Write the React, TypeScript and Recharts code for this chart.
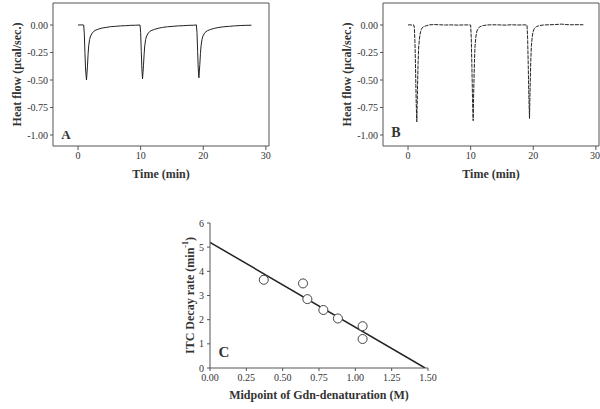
import { LineChart, Line, XAxis, YAxis, ComposedChart, Scatter, Label } from 'recharts';

// Panel A: thermogram, native protein
const timeA = [
  0, 0.5, 0.9, 1.0, 1.1, 1.2, 1.35, 1.5, 1.6, 1.7, 1.85, 2.0, 2.3, 2.7, 3.2, 3.8, 4.5, 5.2, 6.0, 6.8, 7.6, 8.4, 9.2, 9.9,
  10.0, 10.1, 10.2, 10.3, 10.45, 10.55, 10.65, 10.8, 10.95, 11.25, 11.65, 12.2, 12.8, 13.5, 14.3, 15.2, 16.0, 16.9, 17.7, 18.5, 18.9,
  19.0, 19.1, 19.2, 19.3, 19.45, 19.55, 19.65, 19.8, 19.95, 20.25, 20.65, 21.2, 21.8, 22.5, 23.3, 24.2, 25.0, 25.9, 26.8, 27.7,
];
const flowA = [
  0.0, 0.001, 0.0, -0.08, -0.25, -0.4, -0.5, -0.38, -0.27, -0.19, -0.13, -0.1, -0.07, -0.05, -0.038, -0.028, -0.022, -0.015, -0.012, -0.008, -0.006, -0.003, -0.002, 0.0,
  -0.07, -0.24, -0.4, -0.49, -0.37, -0.27, -0.19, -0.13, -0.1, -0.07, -0.052, -0.04, -0.03, -0.022, -0.016, -0.012, -0.008, -0.006, -0.003, -0.002, 0.001,
  -0.07, -0.24, -0.4, -0.48, -0.36, -0.26, -0.19, -0.13, -0.1, -0.07, -0.052, -0.04, -0.03, -0.022, -0.016, -0.012, -0.008, -0.005, -0.003, -0.002,
];

// Panel B: thermogram, second sample
const timeB = [
  0, 0.3, 0.6, 0.9, 1.0, 1.1, 1.2, 1.3, 1.4, 1.5, 1.6, 1.7, 1.85, 2.0, 2.2, 2.5, 3.0, 3.5, 4.2, 5.0, 6.0, 7.0, 8.0, 9.0,
  10.0, 10.1, 10.2, 10.3, 10.4, 10.5, 10.6, 10.7, 10.85, 11.0, 11.2, 11.5, 12.0, 12.6, 13.5, 14.5, 15.5, 16.5, 17.5, 18.5,
  19.0, 19.1, 19.2, 19.3, 19.4, 19.5, 19.6, 19.7, 19.85, 20.0, 20.2, 20.5, 21.0, 21.6, 22.5, 23.5, 24.5, 25.2, 26.0, 27.0, 28.0,
];
const flowB = [
  0.0, 0.002, -0.001, 0.001, -0.02, -0.15, -0.4, -0.7, -0.88, -0.6, -0.35, -0.2, -0.11, -0.06, -0.03, -0.015, -0.005, 0.002, 0.004, 0.002, 0.0, 0.001, -0.001, 0.001,
  0.0, -0.12, -0.38, -0.68, -0.87, -0.58, -0.34, -0.19, -0.1, -0.055, -0.03, -0.015, -0.005, 0.0, 0.002, 0.001, -0.001, 0.002, 0.0, 0.001,
  0.0, -0.12, -0.37, -0.66, -0.85, -0.57, -0.33, -0.19, -0.1, -0.055, -0.03, -0.015, -0.005, 0.0, 0.002, 0.004, 0.008, 0.004, 0.002, 0.003, 0.002,
];

const timeTicks = [0, 10, 20, 30];
const flowTicks = [0, -0.25, -0.5, -0.75, -1];

// Panel C: decay rate vs denaturation midpoint
const midpoint = [0.37, 0.64, 0.67, 0.78, 0.88, 1.05, 1.05];
const decayRate = [3.65, 3.5, 2.85, 2.4, 2.05, 1.73, 1.2];
const fitX = [0, 1.48];
const fitY = [5.2, 0];
const midTicks = [0, 0.25, 0.5, 0.75, 1.0, 1.25, 1.5];
const rateTicks = [0, 1, 2, 3, 4, 5, 6];

const serif = '"Liberation Serif", "DejaVu Serif", serif';
const tickStyle = { fill: '#333', fontSize: 10, fontFamily: serif };
const axisColor = '#555';

function YTitle({ viewBox, dx, children }: any) {
  const cx = viewBox.x + dx;
  const cy = viewBox.y + viewBox.height / 2;
  return (
    <text x={cx} y={cy} transform={`rotate(-90 ${cx} ${cy})`} textAnchor="middle" dominantBaseline="central"
      style={{ fontFamily: serif, fontWeight: 'bold', fontSize: 12, fill: '#333' }}>
      {children}
    </text>
  );
}

function XTitle({ viewBox, dy, children }: any) {
  const cx = viewBox.x + viewBox.width / 2;
  const cy = viewBox.y + dy;
  return (
    <text x={cx} y={cy} textAnchor="middle" dominantBaseline="central"
      style={{ fontFamily: serif, fontWeight: 'bold', fontSize: 12, fill: '#333' }}>
      {children}
    </text>
  );
}

function PanelLetter({ x, y, size, children }: any) {
  return (
    <div style={{
      position: 'absolute', left: x, top: y, transform: 'translate(-50%, -50%)',
      fontFamily: serif, fontWeight: 'bold', fontSize: size, lineHeight: 1, color: '#333',
    }}>{children}</div>
  );
}

function Thermogram({ time, flow, left, width, right, dash }: any) {
  const data = time.map((t: number, i: number) => ({ t, q: flow[i] }));
  return (
    <div style={{ position: 'absolute', left, top: 0 }}>
      <LineChart width={width} height={190} data={data} margin={{ top: 2, right, left: 0, bottom: 0 }}>
        <XAxis dataKey="t" type="number" domain={[-4, 30.5]} ticks={timeTicks} allowDataOverflow
          tickSize={4} stroke={axisColor} tick={tickStyle} height={44}>
          <Label content={(p: any) => <XTitle viewBox={p.viewBox} dy={28}>Time (min)</XTitle>} />
        </XAxis>
        <XAxis xAxisId="top" orientation="top" type="number" domain={[-4, 30.5]} tick={false} tickLine={false}
          height={1} stroke={axisColor} />
        <YAxis type="number" domain={[-1.1, 0.2]} ticks={flowTicks} allowDataOverflow
          tickFormatter={(v: number) => v.toFixed(2)} tickSize={3} tickMargin={2} stroke={axisColor} tick={tickStyle} width={53}>
          <Label content={(p: any) => <YTitle viewBox={p.viewBox} dx={17}>Heat flow (μcal/sec.)</YTitle>} />
        </YAxis>
        <YAxis yAxisId="right" orientation="right" type="number" domain={[-1.1, 0.2]} tick={false} tickLine={false}
          width={1} stroke={axisColor} />
        <Line type="linear" dataKey="q" stroke="#222" strokeWidth={1} dot={false}
          strokeDasharray={dash} isAnimationActive={false} />
      </LineChart>
    </div>
  );
}

export default function App() {
  const points = midpoint.map((x, i) => ({ x, y: decayRate[i] }));
  const fit = fitX.map((x, i) => ({ x, y: fitY[i] }));
  return (
    <div style={{ position: 'absolute', left: 0, top: 0, width: 600, height: 409, background: '#fff', overflow: 'hidden' }}>
      <Thermogram time={timeA} flow={flowA} left={0} width={300} right={30} />
      <Thermogram time={timeB} flow={flowB} left={330} width={270} right={0} dash="4 1" />
      <PanelLetter x={66} y={134} size={13}>A</PanelLetter>
      <PanelLetter x={396} y={133} size={14}>B</PanelLetter>

      <div style={{ position: 'absolute', left: 150, top: 190 }}>
        <ComposedChart width={300} height={219} margin={{ top: 33, right: 22, left: 0, bottom: 0 }}>
          <XAxis dataKey="x" type="number" domain={[0, 1.5]} ticks={midTicks} allowDataOverflow
            tickFormatter={(v: number) => v.toFixed(2)} tickSize={3} tickMargin={3} stroke={axisColor} tick={tickStyle} height={41}>
            <Label content={(p: any) => <XTitle viewBox={p.viewBox} dy={27}>Midpoint of Gdn-denaturation (M)</XTitle>} />
          </XAxis>
          <YAxis type="number" domain={[0, 6]} ticks={rateTicks} allowDataOverflow
            tickSize={3} tickMargin={3} stroke={axisColor} tick={tickStyle} width={60}>
            <Label content={(p: any) => (
              <YTitle viewBox={p.viewBox} dx={40}>
                ITC Decay rate (min<tspan baselineShift="super" fontSize={8}>-1</tspan>)
              </YTitle>
            )} />
          </YAxis>
          <Scatter data={points} dataKey="y" fill="#fff" stroke="#444" strokeWidth={1} isAnimationActive={false} />
          <Line data={fit} dataKey="y" type="linear" stroke="#222" strokeWidth={1.5} dot={false} isAnimationActive={false} />
        </ComposedChart>
      </div>
      <PanelLetter x={224} y={352} size={15}>C</PanelLetter>
    </div>
  );
}
